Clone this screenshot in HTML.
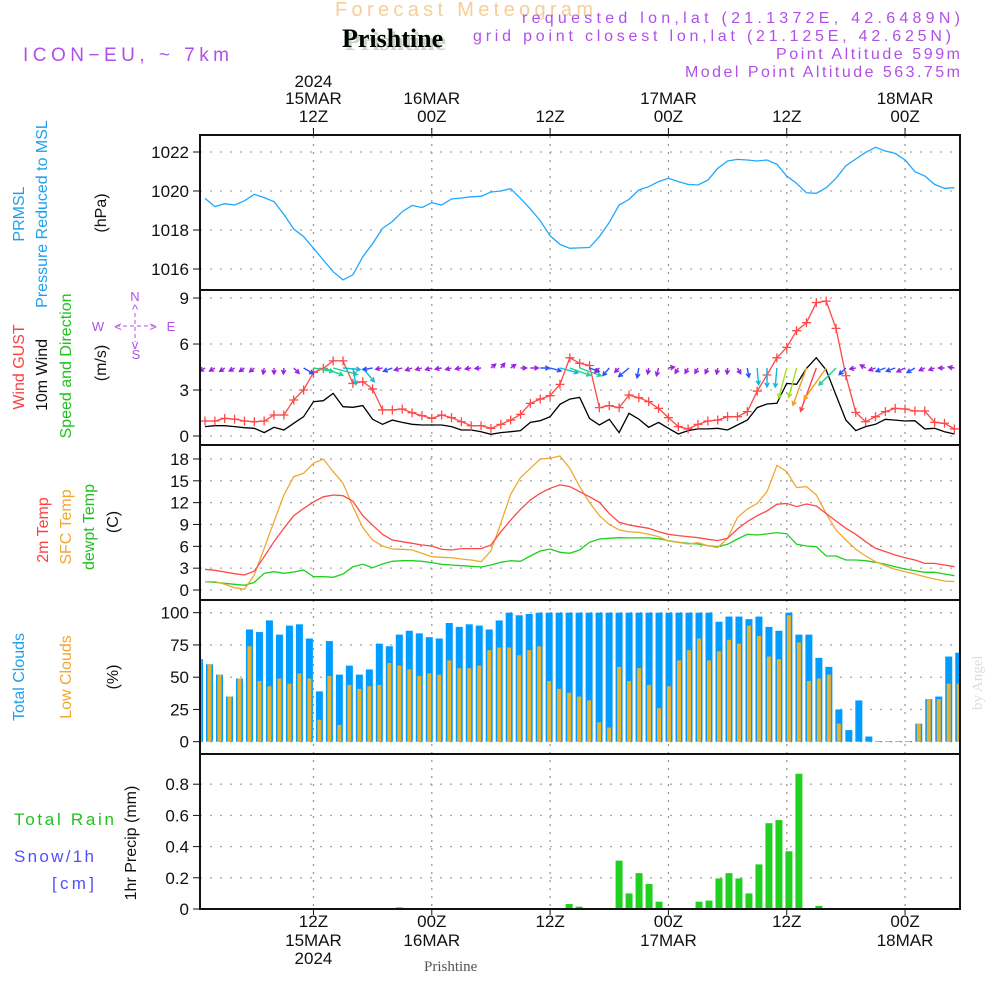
<!DOCTYPE html>
<html><head><meta charset="utf-8"><title>Forecast Meteogram Prishtine</title>
<style>
html,body{margin:0;padding:0;background:#fff;}
svg{display:block;font-family:"Liberation Sans",sans-serif;}
.tk{font-size:17px;fill:#111;font-family:"Liberation Sans Narrow","Liberation Sans",sans-serif;}
</style></head><body>
<svg id="chart" width="1000" height="1000" viewBox="0 0 1000 1000" xmlns="http://www.w3.org/2000/svg">
<defs>
<clipPath id="cp1"><rect x="200" y="135" width="760" height="155"/></clipPath>
<clipPath id="cp2"><rect x="200" y="290" width="760" height="155"/></clipPath>
<clipPath id="cp3"><rect x="200" y="445" width="760" height="155"/></clipPath>
<clipPath id="cp4"><rect x="200" y="600" width="760" height="154"/></clipPath>
<clipPath id="cp5"><rect x="200" y="754" width="760" height="155"/></clipPath>
</defs>
<text x="335" y="16" font-size="20" fill="#f5cf95" textLength="258" lengthAdjust="spacing">Forecast Meteogram</text>
<text x="345" y="50" font-size="26" font-weight="bold" fill="#c8d8c8" font-family="Liberation Serif,serif">Prishtine</text>
<text x="342" y="47" font-size="26" font-weight="bold" fill="#000" font-family="Liberation Serif,serif">Prishtine</text>
<g fill="#b050e8" font-size="16">
<text x="522" y="23" textLength="438" lengthAdjust="spacing">requested lon,lat (21.1372E, 42.6489N)</text>
<text x="473" y="41" textLength="478" lengthAdjust="spacing">grid point closest lon,lat (21.125E, 42.625N)</text>
<text x="776" y="59" textLength="184" lengthAdjust="spacing">Point Altitude 599m</text>
<text x="685" y="77" textLength="275" lengthAdjust="spacing">Model Point Altitude 563.75m</text>
</g>
<text x="23" y="61" font-size="19" fill="#b050e8" textLength="206" lengthAdjust="spacing">ICON−EU, ~ 7km</text>
<text x="424" y="971" font-size="15" fill="#555" font-family="Liberation Serif,serif">Prishtine</text>
<text transform="translate(982,710) rotate(-90)" font-size="15" fill="#ddd" font-family="Liberation Serif,serif">by Angel</text>

<g font-size="16">
<text transform="translate(24,214) rotate(-90)" text-anchor="middle" fill="#1ea0f0">PRMSL</text>
<text transform="translate(47,214) rotate(-90)" text-anchor="middle" fill="#1ea0f0">Pressure Reduced to MSL</text>
<text transform="translate(106,213) rotate(-90)" text-anchor="middle" fill="#111">(hPa)</text>
<text transform="translate(24,367) rotate(-90)" text-anchor="middle" fill="#ff4040">Wind GUST</text>
<text transform="translate(47,375) rotate(-90)" text-anchor="middle" fill="#111">10m Wind</text>
<text transform="translate(71,366) rotate(-90)" text-anchor="middle" fill="#20c020">Speed and Direction</text>
<text transform="translate(106,363) rotate(-90)" text-anchor="middle" fill="#111">(m/s)</text>
<text transform="translate(48,530) rotate(-90)" text-anchor="middle" fill="#ff4040">2m Temp</text>
<text transform="translate(71,527) rotate(-90)" text-anchor="middle" fill="#f0a830">SFC Temp</text>
<text transform="translate(94,527) rotate(-90)" text-anchor="middle" fill="#20c020">dewpt Temp</text>
<text transform="translate(118,522) rotate(-90)" text-anchor="middle" fill="#111">(C)</text>
<text transform="translate(24,677) rotate(-90)" text-anchor="middle" fill="#1ea0f0">Total Clouds</text>
<text transform="translate(71,677) rotate(-90)" text-anchor="middle" fill="#f0a830">Low Clouds</text>
<text transform="translate(118,677) rotate(-90)" text-anchor="middle" fill="#111">(%)</text>
<text transform="translate(136,843) rotate(-90)" text-anchor="middle" fill="#111">1hr Precip (mm)</text>
<text x="14" y="825" fill="#20c020" font-size="17" textLength="100" lengthAdjust="spacing">Total   Rain</text>
<text x="14" y="862" fill="#5050ff" font-size="17" textLength="80" lengthAdjust="spacing">Snow/1h</text>
<text x="52" y="889" fill="#5050ff" font-size="17" textLength="42" lengthAdjust="spacing">[cm]</text>
</g>
<g fill="#b050e8" font-size="13" text-anchor="middle">
<text x="135" y="301">N</text><text x="136" y="359">S</text><text x="98" y="331">W</text><text x="171" y="331">E</text>
<text x="135" y="314">^</text>
<line x1="135" y1="313" x2="135" y2="342" stroke="#b050e8" stroke-dasharray="4,3"/>
<line x1="116" y1="326" x2="156" y2="326" stroke="#b050e8" stroke-dasharray="4,3"/>
<text x="118" y="331">&lt;</text><text x="153" y="331">&gt;</text><text x="135" y="349">v</text>
</g>
<g id="g"></g>
</svg>
<script>
const hours = Array.from({length:77},(_,i)=>i);
const pressure = [1019.62,1019.2,1019.35,1019.28,1019.5,1019.83,1019.66,1019.45,1018.8,1018.05,1017.66,1017.06,1016.46,1015.86,1015.44,1015.7,1016.63,1017.3,1018.08,1018.43,1018.94,1019.26,1019.15,1019.4,1019.28,1019.59,1019.64,1019.7,1019.73,1019.95,1020.0,1020.12,1019.62,1019.08,1018.48,1017.7,1017.26,1017.06,1017.08,1017.1,1017.66,1018.39,1019.28,1019.57,1020.05,1020.22,1020.48,1020.65,1020.48,1020.34,1020.31,1020.56,1021.16,1021.54,1021.62,1021.59,1021.54,1021.59,1021.37,1020.77,1020.39,1019.91,1019.88,1020.17,1020.65,1021.3,1021.64,1021.98,1022.24,1022.05,1021.93,1021.59,1020.99,1020.77,1020.34,1020.14,1020.17];
const gust = [0.98,0.98,1.15,1.1,0.98,0.93,0.98,1.37,1.37,2.35,3.0,4.15,4.41,4.9,4.9,3.43,3.54,3.07,1.7,1.7,1.76,1.52,1.33,1.15,1.37,1.2,0.93,0.67,0.67,0.5,0.76,1.04,1.41,2.13,2.41,2.63,3.37,5.1,4.74,4.6,1.85,1.98,1.85,2.67,2.5,2.24,1.8,1.2,0.61,0.46,0.76,0.98,1.04,1.26,1.26,1.59,2.93,3.98,5.1,5.78,6.87,7.39,8.7,8.8,7.02,3.93,1.54,0.93,1.26,1.59,1.8,1.76,1.63,1.63,0.89,0.83,0.46];
const wind = [0.61,0.67,0.67,0.61,0.54,0.5,0.22,0.57,0.39,0.83,1.26,2.24,2.3,2.78,1.91,1.87,1.98,1.09,0.76,1.04,0.89,0.76,0.72,0.72,0.72,0.61,0.39,0.39,0.28,0.11,0.22,0.28,0.35,0.89,1.0,1.26,2.07,2.41,2.52,1.15,0.72,1.09,0.22,1.48,1.1,0.57,0.89,0.5,0.13,0.35,0.46,0.46,0.5,0.39,0.72,1.04,1.85,2.09,2.13,3.43,3.37,4.41,5.11,4.3,2.67,1.04,0.35,0.61,0.76,1.09,1.04,0.98,1.0,0.46,0.5,0.28,0.13];
const windFrom = [60,60,55,60,55,50,10,0,5,315,300,280,290,285,275,350,320,80,80,70,75,70,75,75,80,75,80,80,85,230,220,235,270,270,270,285,285,290,290,290,45,40,45,50,10,10,15,260,30,30,30,25,10,5,330,350,355,360,5,15,15,20,20,35,45,45,80,120,70,70,70,65,60,65,70,90,100];
const temp2m = [2.84,2.7,2.47,2.24,2.06,2.6,4.58,6.64,8.47,10.2,11.2,12.1,12.8,13.05,12.96,12.2,10.2,8.9,7.65,6.87,6.64,6.41,6.18,6.05,5.59,5.5,5.68,5.68,5.68,6.18,8.0,9.6,11.08,12.37,13.28,13.97,14.43,14.2,13.5,12.8,12.05,10.5,9.3,8.93,8.7,8.47,8.0,7.65,7.47,7.33,7.19,6.96,6.78,7.1,8.38,9.39,10.2,10.86,11.77,11.9,11.45,11.82,11.54,10.5,9.48,8.47,7.65,6.64,5.73,5.27,4.81,4.44,4.12,3.66,3.66,3.44,3.2];
const tempSfc = [1.15,1.15,0.78,0.32,0.1,2.06,5.73,9.39,13.05,15.57,16.03,17.4,18.0,16.26,14.66,11.45,8.57,6.87,6.05,5.63,5.59,5.5,5.04,4.58,4.49,4.44,4.26,4.12,3.89,5.36,9.16,13.15,15.44,16.72,18.0,18.1,18.4,16.72,14.2,12.0,10.2,9.0,8.25,8.0,7.92,7.65,7.33,6.73,6.55,6.32,6.5,6.09,5.82,7.1,9.94,11.13,11.9,13.5,17.1,16.26,14.06,14.2,13.05,10.5,8.25,6.87,5.59,4.67,3.89,3.34,2.84,2.52,2.2,1.83,1.51,1.24,1.15];
const dewpt = [1.15,1.05,0.92,0.78,0.64,1.05,2.29,2.52,2.29,2.47,2.75,1.83,1.83,1.74,2.2,3.2,3.53,3.07,3.57,3.94,4.03,4.03,3.94,3.76,3.53,3.44,3.34,3.25,3.16,3.44,3.8,4.03,3.94,4.67,5.36,5.63,5.18,5.04,5.5,6.55,7.0,7.1,7.19,7.15,7.15,7.15,7.05,6.78,6.55,6.41,6.32,6.09,5.96,6.28,7.0,7.65,7.56,7.7,7.88,7.74,6.28,6.05,5.96,4.67,4.67,4.12,4.12,4.03,3.8,3.53,3.2,2.89,2.66,2.43,2.43,2.2,1.97];
const totalClouds = [64,60,52,35,49,87,85,94,83,90,91,80,39,78,52,59,52,56,76,74,83,86,84,81,80,92,89,91,90,87,94,100,98,99,100,100,100,100,100,100,100,100,100,100,100,100,100,100,100,100,100,100,93,97,97,95,97,89,86,100,83,83,65,58,25,9,32,4,0.5,0.5,0.5,0.5,14,33,35,66,69];
const lowClouds = [64,60,52,35,49,74,47,43,49,45,53,49,17,51,13,44,41,43,44,61,59,56,51,53,52,63,57,57,59,71,73,73,67,71,74,47,41,38,35,32,15,11,58,47,57,44,26,43,63,71,80,63,70,79,76,90,82,66,64,98,77,47,49,52,14,0,0,0,0.5,0.5,0.5,0.5,14,33,33,45,45];
const precipHours = [19,20,37,38,42,43,44,45,46,50,51,52,53,54,55,56,57,58,59,60,62];
const precipVals = [0.005,0.01,0.032,0.015,0.31,0.1,0.23,0.16,0.047,0.047,0.054,0.196,0.23,0.196,0.1,0.286,0.55,0.57,0.37,0.867,0.02];
const pTicks = [1016,1018,1020,1022];
const wTicks = [0,3,6,9];
const tTicks = [0,3,6,9,12,15,18];
const cTicks = [0,25,50,75,100];
const rTicks = [0,0.2,0.4,0.6,0.8];
const rTickLabels = ["0","0.2","0.4","0.6","0.8"];
const timeTickHours = [11,23,35,47,59,71];
const timeTop1 = ["2024","","","","",""];
const timeTop2 = ["15MAR","16MAR","","17MAR","","18MAR"];
const timeHour = ["12Z","00Z","12Z","00Z","12Z","00Z"];

const x = t => 205 + 9.86*t;
const xb = k => 199.5 + 9.99*k;
const yP = v => 191 - (v-1020)*19.5;
const yW = v => 436 - v*15.33;
const yT = v => 590 - v*7.28;
const yC = v => 741.7 - v*1.29;
const yR = v => 909 - v*156;

const NS="http://www.w3.org/2000/svg";
const G=document.getElementById('g');
function mk(tag,attrs,parent){const e=document.createElementNS(NS,tag);for(const k in attrs)e.setAttribute(k,attrs[k]);(parent||G).appendChild(e);return e;}

const panels=[[135,290,'pressure-panel'],[290,445,'wind-panel'],[445,600,'temperature-panel'],[600,754,'clouds-panel'],[754,909,'precip-panel']];
timeTickHours.forEach(h=>{
  const l=mk('line',{x1:x(h),x2:x(h),y1:128,y2:912,stroke:'#999','stroke-width':1.3,'stroke-dasharray':'2,6'});
  
  
});
function hgrid(ticks,yf,labels,name){
  ticks.forEach((v,i)=>{
    const y=yf(v);
    const l=mk('line',{x1:200,x2:960,y1:y,y2:y,stroke:'#aaa','stroke-width':1.3,'stroke-dasharray':'2,8'});
    
    
    mk('line',{x1:193,x2:200,y1:y,y2:y,stroke:'#111','stroke-width':1});
    const t=mk('text',{x:189,y:y+6,'text-anchor':'end',class:'tk'});
    t.textContent=labels?labels[i]:String(v);
    
    
  });
}
hgrid(pTicks,yP,null,'pressure');
hgrid(wTicks,yW,null,'wind');
hgrid(tTicks,yT,null,'temperature');
hgrid(cTicks,yC,null,'clouds');
hgrid(rTicks,yR,rTickLabels,'precip');

timeTickHours.forEach((h,i)=>{
  const cx=x(h);
  [[timeTop1[i],87],[timeTop2[i],104],[timeHour[i],122]].forEach(([s,y])=>{ if(!s)return;
    const t=mk('text',{x:cx,y:y,'text-anchor':'middle',class:'tk'});t.textContent=s;
    
    });
  [[timeHour[i],927],[timeTop2[i],946],[timeTop1[i],964]].forEach(([s,y])=>{ if(!s)return;
    const t=mk('text',{x:cx,y:y,'text-anchor':'middle',class:'tk'});t.textContent=s;
    
    });
  mk('line',{x1:cx,x2:cx,y1:909,y2:915,stroke:'#111'});
  mk('line',{x1:cx,x2:cx,y1:128,y2:135,stroke:'#111'});
});

function poly(vals,xf,yf,color,clip,name,w){
  const pts=vals.map((v,i)=>x(i).toFixed(1)+','+yf(v).toFixed(1)).join(' ');
  const p=mk('polyline',{points:pts,fill:'none',stroke:color,'stroke-width':w||1.3,'clip-path':'url(#'+clip+')'});
  
  
  return p;
}
totalClouds.forEach((v,k)=>{
  const r=mk('rect',{x:xb(k)-3.5,y:yC(v),width:7,height:yC(0)-yC(v),fill:'#009cff','clip-path':'url(#cp4)'});
  
  
});
lowClouds.forEach((v,k)=>{
  const r=mk('rect',{x:xb(k)-2,y:yC(v),width:4,height:yC(0)-yC(v),fill:'#e8b030','clip-path':'url(#cp4)'});
  
  
});
precipHours.forEach((k,i)=>{
  const v=precipVals[i];
  const r=mk('rect',{x:xb(k)-3.5,y:yR(v),width:7,height:yR(0)-yR(v),fill:'#20d020','clip-path':'url(#cp5)'});
  
  
});
mk('line',{x1:200,x2:960,y1:909,y2:909,stroke:'#111','stroke-width':2,'stroke-dasharray':'7,3'});

poly(pressure,x,yP,'#1ea8ff','cp1','pressure-line');
poly(wind,x,yW,'#000','cp2','wind-speed-line');
poly(gust,x,yW,'#ff4848','cp2','wind-gust-line');
gust.forEach((v,i)=>{
  const cx=x(i),cy=yW(v);
  const p=mk('path',{d:`M${cx-4.5},${cy}h9M${cx},${cy-4.5}v9`,stroke:'#ff4848','stroke-width':1.3,'clip-path':'url(#cp2)'});
  
  
});
function wcol(s){ if(s<1)return '#9a20e0'; if(s<1.6)return '#2850ff'; if(s<2.2)return '#10b8e0'; if(s<3)return '#20d090'; if(s<4)return '#a0e020'; if(s<4.8)return '#f0a020'; return '#ff4040';}
windFrom.forEach((d,i)=>{
  const s=wind[i], L=Math.max(6,9*s), r=d*Math.PI/180;
  const dx=-Math.sin(r), dy=Math.cos(r);
  const x0=x(i), y0=368, x1=x0+dx*L, y1=y0+dy*L;
  const a=Math.atan2(dy,dx), h=4.5;
  const hx1=x1-h*Math.cos(a-0.5), hy1=y1-h*Math.sin(a-0.5), hx2=x1-h*Math.cos(a+0.5), hy2=y1-h*Math.sin(a+0.5);
  const p=mk('path',{d:`M${x0},${y0}L${x1},${y1}M${hx1},${hy1}L${x1},${y1}L${hx2},${hy2}`,stroke:wcol(s),'stroke-width':1.4,fill:'none','clip-path':'url(#cp2)'});
  
  
});
poly(dewpt,x,yT,'#20d020','cp3','dewpoint-line');
poly(tempSfc,x,yT,'#f0a830','cp3','sfc-temp-line');
poly(temp2m,x,yT,'#ff4848','cp3','temp-2m-line');

panels.forEach(([a,b,n])=>{
  const r=mk('rect',{x:200,y:a,width:760,height:b-a,fill:'none',stroke:'#111','stroke-width':2});
  
  
});
</script>
</body></html>
